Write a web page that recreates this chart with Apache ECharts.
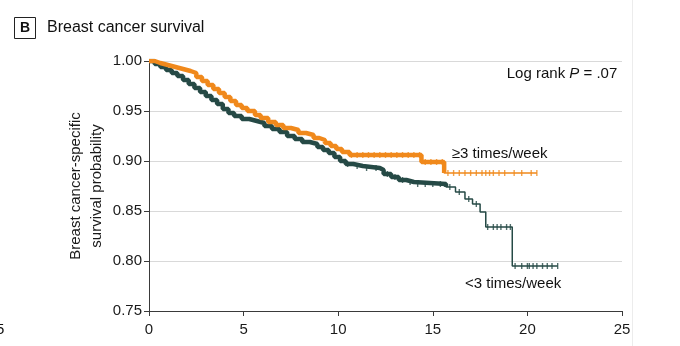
<!DOCTYPE html>
<html>
<head>
<meta charset="utf-8">
<script src="https://cdn.jsdelivr.net/npm/echarts@6/dist/echarts.min.js"></script>
<style>
  html, body { margin: 0; padding: 0; background: #fff; }
  #chart { width: 680px; height: 346px; }
</style>
</head>
<body>
<div id="chart"></div>
<script>
// Kaplan-Meier step curves: event times (years) and survival after each time
const highTimes = [0, 0.3, 0.6, 1.0, 1.4, 1.8, 2.2, 2.5, 2.8, 3.1, 3.4, 3.7, 4.0, 4.3, 4.6, 4.9, 5.2, 5.6, 5.9, 6.3, 6.7, 7.1, 7.5, 7.9, 8.3, 8.7, 9.0, 9.3, 9.6, 9.9, 10.2, 10.6, 14.4, 15.6, 20.5];
const highSurv  = [1.000, 0.998, 0.996, 0.994, 0.992, 0.990, 0.988, 0.984, 0.980, 0.976, 0.972, 0.968, 0.964, 0.960, 0.956, 0.953, 0.950, 0.946, 0.943, 0.939, 0.936, 0.933, 0.931, 0.928, 0.926, 0.923, 0.921, 0.918, 0.915, 0.912, 0.909, 0.906, 0.899, 0.888, 0.888];

const lowTimes = [0, 0.3, 0.6, 0.9, 1.2, 1.5, 1.8, 2.1, 2.4, 2.7, 3.0, 3.3, 3.6, 3.9, 4.2, 4.5, 4.9, 5.3, 5.7, 6.1, 6.5, 6.9, 7.3, 7.7, 8.1, 8.5, 8.9, 9.2, 9.5, 9.8, 10.1, 10.4, 10.8, 11.3, 12.2, 12.4, 12.8, 13.2, 13.6, 14.0, 15.7, 16.2, 16.7, 17.1, 17.5, 17.8, 19.2, 21.6];
const lowSurv  = [1.000, 0.997, 0.994, 0.991, 0.988, 0.985, 0.981, 0.977, 0.973, 0.969, 0.965, 0.961, 0.957, 0.952, 0.948, 0.945, 0.942, 0.940, 0.938, 0.935, 0.932, 0.929, 0.925, 0.922, 0.919, 0.917, 0.914, 0.911, 0.908, 0.904, 0.900, 0.897, 0.895, 0.893, 0.891, 0.887, 0.884, 0.881, 0.879, 0.877, 0.874, 0.869, 0.862, 0.857, 0.849, 0.834, 0.795, 0.795];

// Censoring times (tick marks on the curves)
const highCensor = [10.7, 11.0, 11.3, 11.6, 11.9, 12.2, 12.5, 12.8, 13.1, 13.4, 13.7, 14.0, 14.3, 14.6, 14.9, 15.2, 15.5, 15.8, 16.1, 16.4, 16.7, 17.0, 17.3, 17.6, 17.8, 18.0, 18.2, 18.5, 18.8, 19.3, 19.7, 20.2, 20.5];
const lowCensor  = [10.5, 11.0, 11.5, 12.0, 12.6, 13.0, 13.4, 13.8, 14.2, 14.6, 15.0, 15.4, 15.9, 16.4, 16.9, 17.3, 17.9, 18.2, 18.4, 18.6, 18.9, 19.1, 19.35, 19.7, 20.0, 20.1, 20.3, 20.5, 20.8, 21.05, 21.3, 21.6];

// Index after which the curve is drawn with a thin line
const highThickEnd = 33;
const lowThickEnd = 40;

const xTicks = { min: 0, max: 25, step: 5 };
const yTicks = { min: 0.75, max: 1.0, step: 0.05 };

const yTitle = 'Breast cancer-specific\nsurvival probability';
const highLabel = '\u22653 times/week';
const lowLabel = '<3 times/week';

const ORANGE = '#F0891C';
const DARK = '#264a46';
const FONT = 'Liberation Sans';

function pairs(times, surv) {
  return times.map((t, i) => [t, surv[i]]);
}
function survAt(times, surv, t) {
  let s = surv[0];
  for (let i = 0; i < times.length; i++) {
    if (times[i] <= t) s = surv[i]; else break;
  }
  return s;
}
function censorPts(cens, times, surv) {
  return cens.map(t => [t, survAt(times, surv, t)]);
}

function curveSeries(times, surv, thickEnd, color) {
  const all = pairs(times, surv);
  return [
    { type: 'line', step: 'end', showSymbol: false, silent: true, data: all.slice(0, thickEnd + 1),
      lineStyle: { color: color, width: 4.5 }, itemStyle: { color: color }, z: 3 },
    { type: 'line', step: 'end', showSymbol: false, silent: true, data: all,
      lineStyle: { color: color, width: 1.5 }, itemStyle: { color: color }, z: 3 }
  ];
}

const chart = echarts.init(document.getElementById('chart'), null, { renderer: 'canvas' });

const series = [].concat(
  curveSeries(lowTimes, lowSurv, lowThickEnd, DARK),
  [{ type: 'scatter', silent: true, symbol: 'rect', symbolSize: [1.4, 6],
     data: censorPts(lowCensor, lowTimes, lowSurv), itemStyle: { color: DARK }, z: 4 }],
  curveSeries(highTimes, highSurv, highThickEnd, ORANGE),
  [{ type: 'scatter', silent: true, symbol: 'rect', symbolSize: [1.4, 6],
     data: censorPts(highCensor, highTimes, highSurv), itemStyle: { color: ORANGE }, z: 4 }]
);

chart.setOption({
  animation: false,
  backgroundColor: '#fff',
  textStyle: { fontFamily: FONT },
  grid: { left: 149, right: 58, top: 61, bottom: 35, containLabel: false },
  xAxis: {
    type: 'value', min: xTicks.min, max: xTicks.max, interval: xTicks.step,
    axisLine: { lineStyle: { color: '#3a3a3a', width: 1 } },
    axisTick: { show: true, length: 5, lineStyle: { color: '#3a3a3a' } },
    axisLabel: { color: '#1a1a1a', fontSize: 15, fontFamily: FONT, margin: 11 },
    splitLine: { show: false }
  },
  yAxis: {
    type: 'value', min: yTicks.min, max: yTicks.max, interval: yTicks.step,
    axisLine: { show: true, lineStyle: { color: '#3a3a3a', width: 1 } },
    axisTick: { show: true, length: 5, lineStyle: { color: '#3a3a3a' } },
    axisLabel: { color: '#1a1a1a', fontSize: 15, fontFamily: FONT, margin: 7,
                 formatter: v => v.toFixed(2) },
    splitLine: { show: true, lineStyle: { color: '#d9d9d9', width: 1 } }
  },
  series: series
});

// Annotations placed in data coordinates
function px(x, y) { return chart.convertToPixel({ gridIndex: 0 }, [x, y]); }
const pHigh = px(16.0, 0.907);
const pLow = px(16.7, 0.777);
const pRank = px(24.75, 0.987);
const pMid = px(0, 0.875);

chart.setOption({
  graphic: [
    { type: 'rect', shape: { x: 14.5, y: 17.5, width: 21, height: 21 },
      style: { fill: '#fff', stroke: '#222', lineWidth: 1 } },
    { type: 'text', x: 25, y: 28, style: { text: 'B', font: 'bold 14px ' + FONT, fill: '#111',
      align: 'center', verticalAlign: 'middle' } },
    { type: 'text', x: 47, y: 28, style: { text: 'Breast cancer survival', font: '16px ' + FONT,
      fill: '#111', align: 'left', verticalAlign: 'middle' } },
    // rotated y-axis title, two lines
    { type: 'text', x: 86, y: pMid[1], rotation: Math.PI / 2,
      style: { text: yTitle, font: '15px ' + FONT, lineHeight: 21, fill: '#1a1a1a',
               align: 'center', verticalAlign: 'middle' } },
    { type: 'text', x: pHigh[0], y: pHigh[1], z: 10, style: { text: highLabel, font: '15px ' + FONT,
      fill: '#111', align: 'left', verticalAlign: 'middle' } },
    { type: 'text', x: pLow[0], y: pLow[1], z: 10, style: { text: lowLabel, font: '15px ' + FONT,
      fill: '#111', align: 'left', verticalAlign: 'middle' } },
    { type: 'text', x: pRank[0], y: pRank[1], z: 10, style: {
      text: '{n|Log rank }{i|P}{n| = .07}', align: 'right', verticalAlign: 'middle',
      rich: {
        n: { fontSize: 15, fontFamily: FONT, fill: '#111' },
        i: { fontSize: 15, fontFamily: FONT, fontStyle: 'italic', fill: '#111' }
      } } },
    // panel divider on the right and the clipped neighbouring tick label on the left
    { type: 'line', shape: { x1: 632.5, y1: 0, x2: 632.5, y2: 346 },
      style: { stroke: '#ececec', lineWidth: 1 } },
    { type: 'text', x: -4, y: 330, style: { text: '5', font: '15px ' + FONT, fill: '#111',
      align: 'left', verticalAlign: 'middle' } }
  ]
});
</script>
</body>
</html>
